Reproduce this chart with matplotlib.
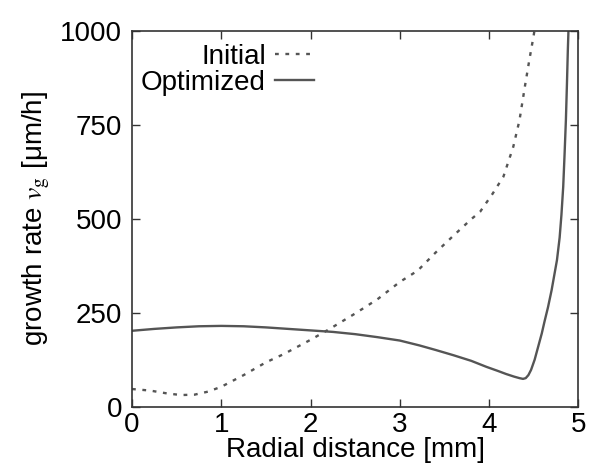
import matplotlib
matplotlib.use("Agg")
from matplotlib import pyplot as plt

plt.rcParams['font.family'] = ['Liberation Sans', 'DejaVu Sans']
plt.rcParams['mathtext.fontset'] = 'stix'

# values
initial_x = [0.0, 0.2, 0.4, 0.55, 0.7, 0.85, 1.0, 1.25, 1.5, 1.7, 2.0, 2.2, 2.5, 2.75,
             3.0, 3.2, 3.4, 3.6, 3.8, 3.9, 4.04, 4.16, 4.27, 4.34, 4.40, 4.45, 4.50, 4.52]
initial_y = [47, 43, 35, 31, 32, 40, 53, 84, 118, 140, 178, 205, 248, 286,
             332, 362, 410, 455, 499, 519, 567, 612, 691, 762, 851, 922, 989, 1020]

optimized_x = [0.0, 0.25, 0.5, 0.75, 1.0, 1.25, 1.5, 1.75, 2.0, 2.25, 2.5, 2.75, 3.0,
               3.22, 3.4, 3.6, 3.8, 3.97, 4.1, 4.19, 4.28, 4.34, 4.38, 4.41, 4.44,
               4.47, 4.51, 4.55, 4.59, 4.62, 4.66, 4.70, 4.73, 4.76, 4.79, 4.81,
               4.83, 4.845, 4.86, 4.872, 4.882, 4.89]
optimized_y = [202, 207, 211, 214, 215, 214, 211, 207, 203, 199, 193, 185, 176,
               163, 151, 137, 122, 106, 95, 87, 80, 76, 74, 76, 84,
               98, 125, 160, 195, 226, 265, 310, 350, 390, 450, 510,
               585, 670, 762, 860, 950, 1010]

x_ticks = [0, 1, 2, 3, 4, 5]
y_ticks = [0, 250, 500, 750, 1000]

line_color = '#555555'


def main():
    fig = plt.figure(figsize=(5.92, 4.68), dpi=100)
    ax = fig.add_axes([0.223, 0.131, 0.754, 0.803])

    ax.plot(initial_x, initial_y, color=line_color, lw=1.7,
            linestyle=(0, (1.6, 2.8)), label='Initial')
    ax.plot(optimized_x, optimized_y, color=line_color, lw=1.7, label='Optimized')

    ax.set_xlim(0, 5)
    ax.set_ylim(0, 1000)
    ax.set_xticks(x_ticks)
    ax.set_yticks(y_ticks)
    ax.tick_params(direction='in', top=True, right=True, length=6, width=1.0,
                   labelsize=20, color='#333333')
    ax.tick_params(axis='x', pad=4)
    ax.tick_params(axis='y', pad=7)
    for s in ax.spines.values():
        s.set_linewidth(1.2)
        s.set_color('#333333')

    ax.set_xlabel('Radial distance [mm]', fontsize=20, labelpad=-1)
    ax.set_ylabel(r'growth rate $\mathit{v}_{\mathrm{g}}$ [μm/h]', fontsize=20, labelpad=6)

    ax.legend(loc='upper left', bbox_to_anchor=(-0.005, 0.995), frameon=False,
              markerfirst=False, fontsize=20, handlelength=1.4, handletextpad=0.35,
              labelspacing=0.0, borderaxespad=0.0)

    fig.savefig('out.png', dpi=100)


if __name__ == '__main__':
    main()
